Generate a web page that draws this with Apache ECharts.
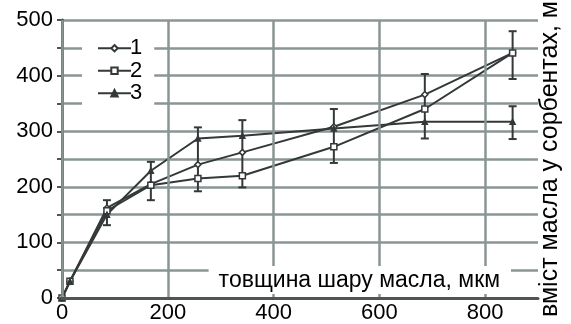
<!DOCTYPE html>
<html><head><meta charset="utf-8">
<script src="https://cdn.jsdelivr.net/npm/echarts@6/dist/echarts.min.js"></script>
<style>html,body{margin:0;padding:0;background:#fff}#c{width:571px;height:324px}</style>
</head><body><div id="c"></div>
<script>
// ---- data ----
const thickness = [0, 15, 85, 168, 257, 341, 514, 686, 852];
const series1 = [0, 30, 162, 205, 240, 262, 308, 366, 441];
const series2 = [0, 30, 157, 203, 215, 220, 272, 340, 441];
const series3 = [0, 30, 150, 229, 287, 292, 305, 317, 317];
const seriesNames = ['1', '2', '3'];
const errX    = [85, 168, 257, 341, 514, 686, 852, 852];
const errLow  = [131, 176, 192, 199, 243, 287, 394, 286];
const errHigh = [176, 245, 307, 320, 340, 403, 480, 345];
const xTickLabels = [0, 200, 400, 600, 800];
const yTickLabels = [0, 100, 200, 300, 400, 500];
const xTitle = 'товщина шару масла, мкм';
const yTitle = 'вміст масла у сорбентах, м';

// ---- styling ----
const FONT = "'Liberation Sans', Arial, sans-serif";
const LINE = '#333838';
const GRID = '#8a9595';
const AXIS = '#4d5555';

const chart = echarts.init(document.getElementById('c'), null, {renderer: 'canvas'});
function pairs(ys) { return thickness.map((x, i) => [x, ys[i]]); }
const allSeries = [series1, series2, series3];
const symbols = ['diamond', 'rect', 'triangle'];
const symbolSizes = [6, 6, 5];
const fills = ['#fff', '#fff', LINE];

const lineSeries = allSeries.map((ys, i) => ({
  type: 'line', name: seriesNames[i], data: pairs(ys),
  symbol: symbols[i], symbolSize: symbolSizes[i], showAllSymbol: true,
  lineStyle: {color: LINE, width: 2},
  itemStyle: {color: fills[i], borderColor: LINE, borderWidth: 1.5},
  z: 4, silent: true
}));

const errSeries = {
  type: 'custom', name: 'err', silent: true, z: 3,
  data: errX.map((x, i) => [x, errLow[i], errHigh[i]]),
  renderItem: function (params, api) {
    const x = api.value(0);
    const lo = api.coord([x, api.value(1)]);
    const hi = api.coord([x, api.value(2)]);
    const w = 4;
    const st = {stroke: LINE, lineWidth: 2};
    return {type: 'group', children: [
      {type: 'line', shape: {x1: lo[0], y1: lo[1], x2: hi[0], y2: hi[1]}, style: st},
      {type: 'line', shape: {x1: lo[0] - w, y1: lo[1], x2: lo[0] + w, y2: lo[1]}, style: st},
      {type: 'line', shape: {x1: hi[0] - w, y1: hi[1], x2: hi[0] + w, y2: hi[1]}, style: st}
    ]};
  }
};

chart.setOption({
  animation: false,
  backgroundColor: '#fff',
  grid: {left: 62, right: 26, top: 19, bottom: 22, containLabel: false},
  legend: {
    data: seriesNames, orient: 'vertical', left: 82, top: 35,
    itemWidth: 33, itemHeight: 8, itemGap: 0,
    backgroundColor: '#fff', padding: [2, 12, 6, 15],
    textStyle: {fontSize: 22, fontFamily: FONT, color: '#000', lineHeight: 22.5, padding: [0, 0, 0, -6]}
  },
  xAxis: [{
    type: 'value', min: 0, max: 900, interval: 200,
    axisLine: {show: true, lineStyle: {color: AXIS, width: 3}},
    axisTick: {show: false},
    axisLabel: {fontSize: 22, fontFamily: FONT, color: '#000', margin: 4, showMaxLabel: false,
      formatter: v => xTickLabels.includes(v) ? String(v) : ''},
    splitLine: {show: true, showMaxLine: false, lineStyle: {color: GRID, width: 2.5}},
    name: '{b|' + xTitle + '}', nameLocation: 'end', nameGap: -27,
    nameTextStyle: {align: 'right', verticalAlign: 'bottom', padding: [0, 0, 4, 0],
      rich: {b: {fontSize: 23, fontFamily: FONT, color: '#000', backgroundColor: '#fff', padding: [3, 11, 2, 10]}}},
    z: 5
  }],
  yAxis: [{
    type: 'value', min: 0, max: 500, interval: 50,
    axisLine: {show: true, lineStyle: {color: AXIS, width: 3}},
    axisTick: {show: true, length: 5, lineStyle: {color: AXIS, width: 2}},
    axisLabel: {fontSize: 22, fontFamily: FONT, color: '#000', margin: 9,
      formatter: v => yTickLabels.includes(v) ? String(v) : ''},
    splitLine: {show: true, lineStyle: {color: GRID, width: 2.5}}
  }, {
    type: 'value', position: 'right', min: 0, max: 1,
    axisLine: {show: false}, axisTick: {show: false}, axisLabel: {show: false}, splitLine: {show: false},
    name: yTitle, nameLocation: 'middle', nameGap: 0,
    nameTextStyle: {fontSize: 25, fontFamily: FONT, color: '#000'}
  }],
  series: lineSeries.concat([errSeries])
});
</script>
</body></html>
